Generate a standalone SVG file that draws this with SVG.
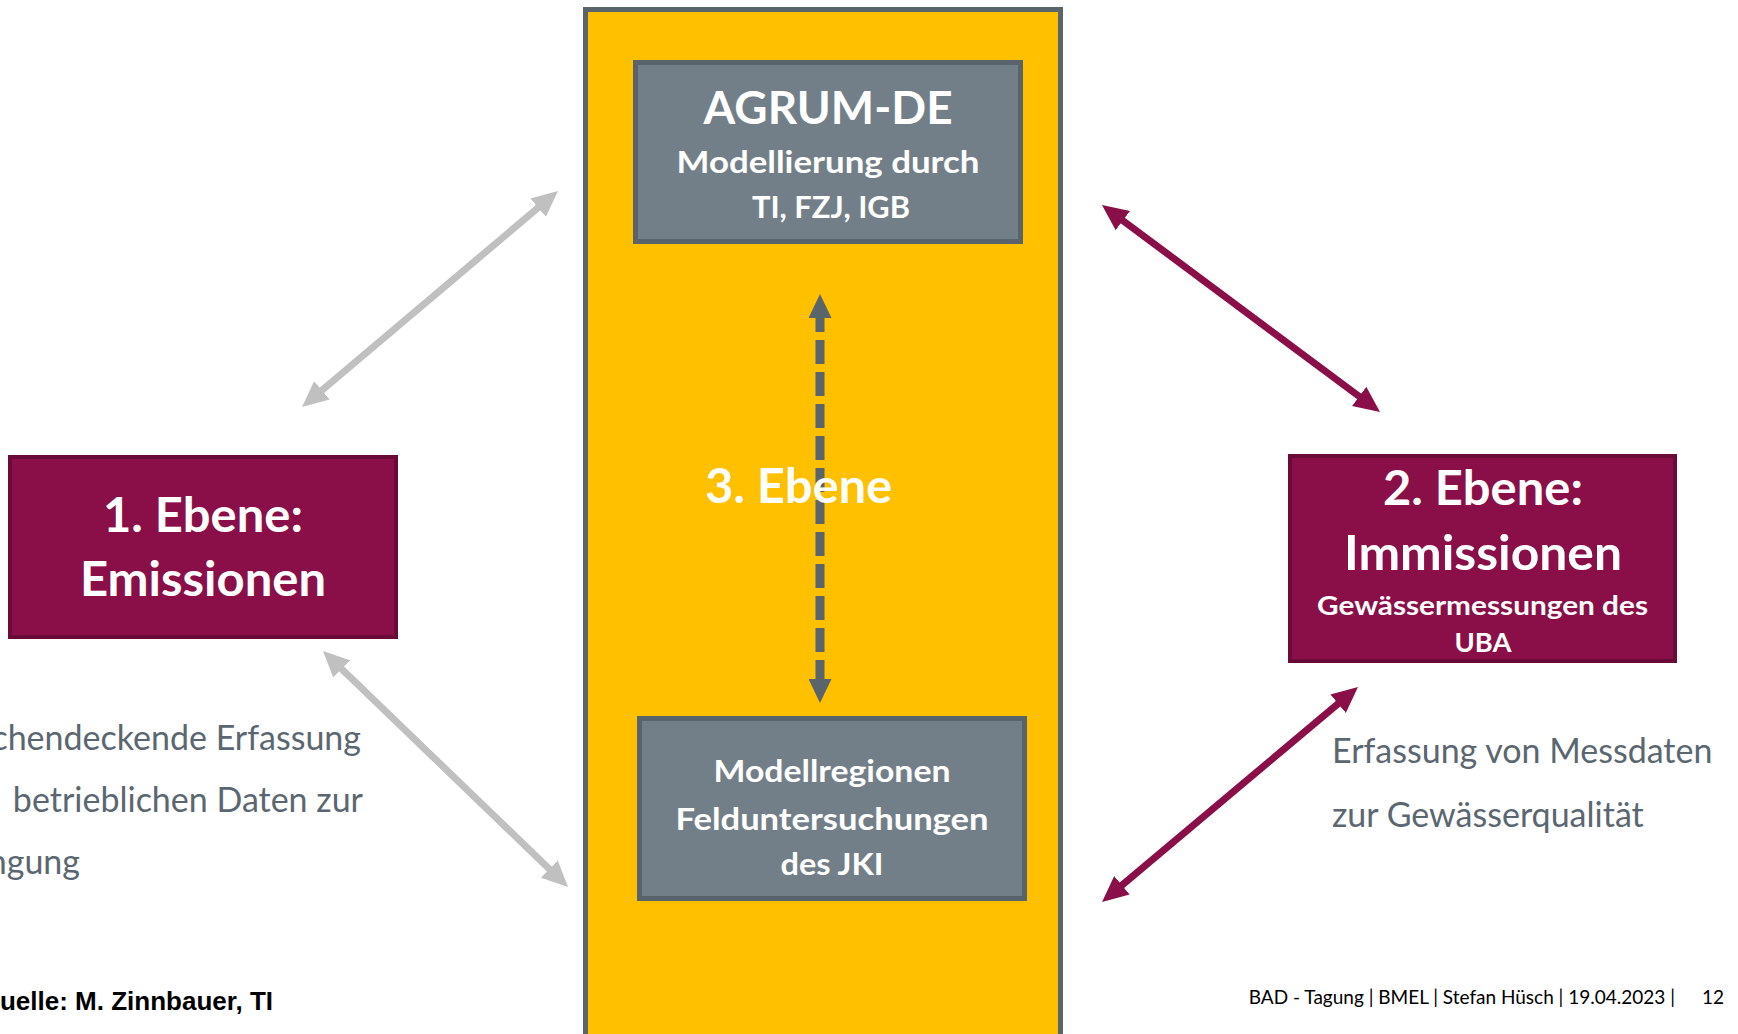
<svg xmlns="http://www.w3.org/2000/svg" width="1738" height="1034" viewBox="0 0 1738 1034">
<style>
.bold{font-family:Lato,"Open Sans","DejaVu Sans",sans-serif;font-weight:bold;fill:#ffffff;text-anchor:middle}
.body{font-family:Lato,"Open Sans","DejaVu Sans",sans-serif;fill:#5b6770;font-size:34px}
.foot{font-family:Lato,"Open Sans","DejaVu Sans",sans-serif;fill:#000000;font-size:19px}
.grey{fill:#737f88;stroke:#59636b;stroke-width:5}
.mag{fill:#8a0e48;stroke:#6a0a37;stroke-width:4}
</style>
<defs>
<marker id="hg" viewBox="0 0 26 24" refX="14" refY="12" markerWidth="26" markerHeight="24" markerUnits="userSpaceOnUse" orient="auto-start-reverse"><path d="M0,0 L26,12 L0,24 z" fill="#c0c0c0"/></marker>
<marker id="hm" viewBox="0 0 26 24" refX="14" refY="12" markerWidth="26" markerHeight="24" markerUnits="userSpaceOnUse" orient="auto-start-reverse"><path d="M0,0 L26,12 L0,24 z" fill="#8a0e48"/></marker>
<marker id="hd" viewBox="0 0 24 23" refX="12" refY="11.5" markerWidth="24" markerHeight="23" markerUnits="userSpaceOnUse" orient="auto-start-reverse"><path d="M0,0 L24,11.5 L0,23 z" fill="#5a646b"/></marker>
</defs>
<rect width="1738" height="1034" fill="#ffffff"/>
<g id="ebene3-panel">
<rect x="585.5" y="9.5" width="475" height="1040" fill="#ffc000" stroke="#5a646b" stroke-width="5"/>
</g>
<g id="agrum">
<rect class="grey" x="635.5" y="62.5" width="385" height="179"/>
<text class="bold" x="828" y="124" font-size="45" textLength="249" lengthAdjust="spacingAndGlyphs">AGRUM-DE</text>
<text class="bold" x="828" y="173" font-size="31" textLength="303" lengthAdjust="spacingAndGlyphs">Modellierung durch</text>
<text class="bold" x="831" y="218" font-size="31" textLength="158" lengthAdjust="spacingAndGlyphs">TI, FZJ, IGB</text>
</g>
<g id="modellregionen">
<rect class="grey" x="639.5" y="718.5" width="385" height="180"/>
<text class="bold" x="832" y="782" font-size="31" textLength="237" lengthAdjust="spacingAndGlyphs">Modellregionen</text>
<text class="bold" x="832" y="830" font-size="31" textLength="313" lengthAdjust="spacingAndGlyphs">Felduntersuchungen</text>
<text class="bold" x="832" y="875" font-size="31" textLength="103" lengthAdjust="spacingAndGlyphs">des JKI</text>
</g>
<g id="ebene1">
<rect class="mag" x="10" y="457" width="386" height="180"/>
<text class="bold" x="203" y="532" font-size="47" textLength="200" lengthAdjust="spacingAndGlyphs">1. Ebene:</text>
<text class="bold" x="203" y="596" font-size="47" textLength="246" lengthAdjust="spacingAndGlyphs">Emissionen</text>
</g>
<g id="ebene2">
<rect class="mag" x="1290" y="456" width="385" height="205"/>
<text class="bold" x="1483" y="505" font-size="47" textLength="200" lengthAdjust="spacingAndGlyphs">2. Ebene:</text>
<text class="bold" x="1483" y="570" font-size="47" textLength="278" lengthAdjust="spacingAndGlyphs">Immissionen</text>
<text class="bold" x="1482.5" y="615" font-size="26" textLength="331" lengthAdjust="spacingAndGlyphs">Gewässermessungen des</text>
<text class="bold" x="1483" y="652" font-size="26" textLength="57" lengthAdjust="spacingAndGlyphs">UBA</text>
</g>
<g id="connectors">
<line x1="311.2" y1="399.3" x2="548.8" y2="198.7" stroke="#c0c0c0" stroke-width="7" marker-start="url(#hg)" marker-end="url(#hg)"/>
<line x1="331.6" y1="659.3" x2="559.4" y2="878.7" stroke="#c0c0c0" stroke-width="7" marker-start="url(#hg)" marker-end="url(#hg)"/>
<line x1="1111.6" y1="212.2" x2="1370.4" y2="404.8" stroke="#8a0e48" stroke-width="7" marker-start="url(#hm)" marker-end="url(#hm)"/>
<line x1="1348.8" y1="694.7" x2="1111.2" y2="894.3" stroke="#8a0e48" stroke-width="7" marker-start="url(#hm)" marker-end="url(#hm)"/>
<line x1="820" y1="306" x2="820" y2="691" stroke="#5a646b" stroke-width="9" stroke-dasharray="24 8" stroke-dashoffset="30" marker-start="url(#hd)" marker-end="url(#hd)"/>
</g>
<g id="ebene3-label">
<text class="bold" x="798.5" y="503" font-size="48" textLength="187" lengthAdjust="spacingAndGlyphs">3. Ebene</text>
</g>
<g id="texts">
<text class="body" x="361" y="750" text-anchor="end">chendeckende Erfassung</text>
<text class="body" x="363" y="812" text-anchor="end">betrieblichen Daten zur</text>
<text class="body" x="80" y="874" text-anchor="end">ngung</text>
<text class="body" x="1332" y="763">Erfassung von Messdaten</text>
<text class="body" x="1332" y="827">zur Gewässerqualität</text>
<text x="273" y="1010" text-anchor="end" font-family="'Liberation Sans',Arial,sans-serif" font-weight="bold" font-size="26" fill="#000000">uelle: M. Zinnbauer, TI</text>
<text class="foot" x="1675" y="1004" text-anchor="end">BAD - Tagung | BMEL | Stefan Hüsch | 19.04.2023 |</text>
<text class="foot" x="1724" y="1004" text-anchor="end">12</text>
</g>
</svg>
